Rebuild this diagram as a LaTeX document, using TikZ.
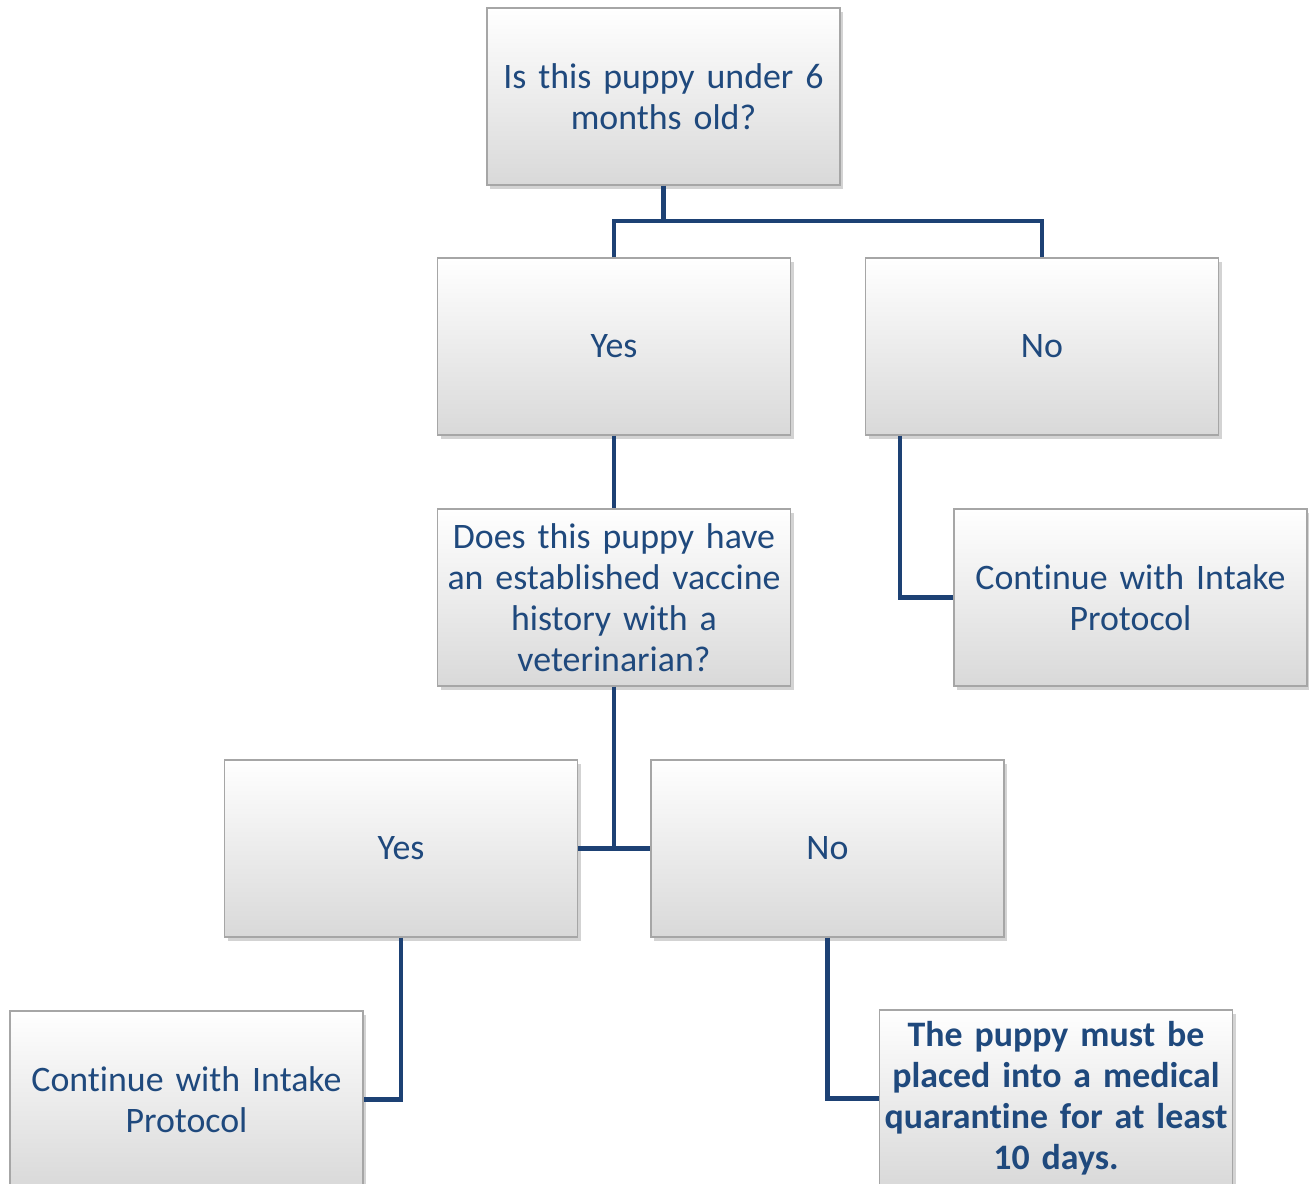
\documentclass[tikz,border=0pt]{standalone}
\usepackage{fontspec}
\setmainfont{Carlito}[Ligatures={NoCommon}]
\usepackage{tikz}
\usetikzlibrary{positioning, shadows}
\definecolor{textblue}{HTML}{1F497D}
\definecolor{lineblue}{HTML}{1D4174}

\begin{document}
\begin{tikzpicture}[
    box/.style={draw=gray!70, line width=0.6pt, top color=white, bottom color=gray!30,
        drop shadow={shadow xshift=0.06cm, shadow yshift=-0.08cm, opacity=0.35},
        text width=7cm, inner xsep=0.03cm, minimum height=3.54cm, align=center,
        font=\fontsize{20.4}{23.3}\selectfont, text=textblue},
    link/.style={draw=lineblue, line width=2.3pt}
]
    \useasboundingbox (0,0) rectangle (26.18,-23.66);

    % Question boxes
    \node[box] (age) at (13.27,-1.93) {Is this puppy under 6\\months old?};
    \node[box] (ageyes) at (12.28,-6.93) {Yes};
    \node[box] (ageno) at (20.84,-6.93) {No};
    \node[box] (vacc) at (12.28,-11.95) {Does this puppy have\\an established vaccine\\history with a\\veterinarian?};
    \node[box] (cont1) at (22.61,-11.95) {Continue with Intake\\Protocol};
    \node[box] (vaccyes) at (8.02,-16.97) {Yes};
    \node[box] (vaccno) at (16.55,-16.97) {No};

    % Outcomes
    \node[box] (cont2) at (3.73,-21.99) {Continue with Intake\\Protocol};
    \node[box, font=\fontsize{20.4}{23.3}\selectfont\bfseries] (quar) at (21.12,-21.97)
        {The puppy must be\\placed into a medical\\quarantine for at least\\10 days.};

    % Connectors
    \coordinate (split) at (13.27,-4.42);
    \draw[link] (age.south) -- (split);
    \draw[link] (ageyes.north) |- (split) -| (ageno.north);
    \draw[link] (ageyes) -- (vacc);
    \draw[link] ([xshift=-2.84cm]ageno.south) |- (cont1.west);
    \draw[link] (vacc.south) -- (vacc.south |- vaccyes.east);
    \draw[link] (vaccyes.east) -- (vaccno.west);
    \draw[link] (vaccyes.south) |- (cont2.east);
    \draw[link] (vaccno.south) |- (quar.west);
\end{tikzpicture}
\end{document}
